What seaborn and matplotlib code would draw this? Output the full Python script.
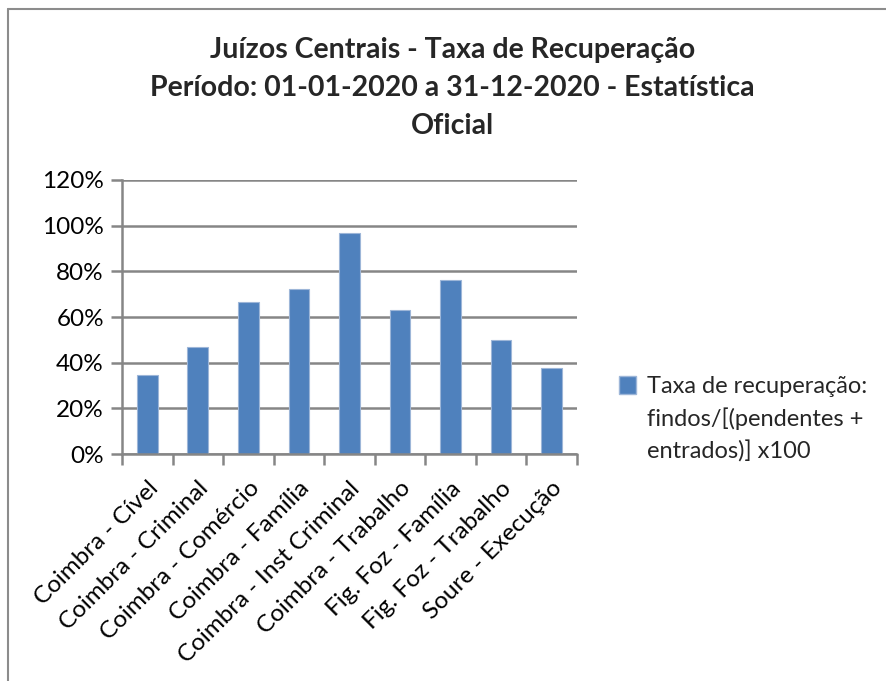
import matplotlib
matplotlib.use("Agg")
import pandas as pd
from matplotlib import pyplot as plt
from matplotlib.lines import Line2D
from matplotlib.patches import Patch
from matplotlib.ticker import FuncFormatter, FixedLocator
import seaborn as sns

# data
juizos = ["Coimbra - Cível", "Coimbra - Criminal", "Coimbra - Comércio",
          "Coimbra - Família", "Coimbra - Inst Criminal", "Coimbra - Trabalho",
          "Fig. Foz - Família", "Fig. Foz - Trabalho", "Soure - Execução"]
taxa = [34.6, 47.0, 66.6, 72.3, 96.9, 63.2, 76.2, 50.1, 37.5]
y_ticks = [0, 20, 40, 60, 80, 100, 120]
legenda = ["Taxa de recuperação:", "findos/[(pendentes +", "entrados)] x100"]

df = pd.DataFrame({"juizo": juizos, "taxa": taxa})

sns.set_theme(style="white")
plt.rcParams['font.family'] = ['Lato', 'DejaVu Sans']
grey = "#868686"
blue = "#4F81BD"

fig = plt.figure(figsize=(8.86, 6.81), dpi=100)
ax = fig.add_axes([0.1377, 0.3333, 0.5133, 0.4024])

sns.barplot(data=df, x="juizo", y="taxa", color=blue, width=0.41,
            edgecolor="#9db6d8", linewidth=0.8, saturation=1, ax=ax, zorder=3)

ax.set_ylim(0, 120)
ax.set_xlim(-0.5, len(juizos) - 0.5)
ax.yaxis.set_major_locator(FixedLocator(y_ticks))
ax.yaxis.set_major_formatter(FuncFormatter(lambda v, p: f"{int(v)}%"))
ax.grid(axis="y", color=grey, linewidth=1.8, zorder=0)
ax.set_axisbelow(True)

for s in ["top", "right", "bottom"]:
    ax.spines[s].set_visible(False)
ax.spines["left"].set_color(grey)
ax.spines["left"].set_linewidth(1.8)
ax.axhline(0, color=grey, linewidth=1.8, zorder=4, clip_on=False)

ax.tick_params(axis="y", which="major", left=True, length=8, width=1.8,
               color=grey, labelsize=17.5, pad=5, labelcolor="black")

# category labels, tick marks between categories like Excel
ax.set_xticks(range(len(juizos)))
ax.set_xticklabels(juizos, rotation=45, ha="right", rotation_mode="anchor",
                   fontsize=17.5, color="black")
ax.tick_params(axis="x", which="major", bottom=False, pad=11)
ax.set_xticks([i - 0.5 for i in range(len(juizos) + 1)], minor=True)
ax.tick_params(axis="x", which="minor", bottom=True, length=8, width=1.8, color=grey)
ax.set_xlabel("")
ax.set_ylabel("")

fig.suptitle("Juízos Centrais - Taxa de Recuperação\n"
             "Período: 01-01-2020 a 31-12-2020 - Estatística\nOficial",
             x=0.511, y=0.945, fontsize=20.5, fontweight="bold", linespacing=1.55)

# legend: first line carries the square, the others continue the label
handles = [Patch(facecolor=blue, edgecolor="#9db6d8"),
           Patch(visible=False), Patch(visible=False)]
fig.legend(handles, legenda, loc="upper left", bbox_to_anchor=(0.685, 0.465),
           frameon=False, fontsize=17, handlelength=0.75, handleheight=0.75,
           handletextpad=0.45, labelspacing=0.45, borderpad=0)

# chart border (left and top edges visible in the reference)
fig.add_artist(Line2D([0.009, 0.009], [0, 0.987], color="#8c8c8c", linewidth=1.5))
fig.add_artist(Line2D([0.009, 1.0], [0.987, 0.987], color="#8c8c8c", linewidth=1.5))

fig.savefig("out.png", dpi=100)
